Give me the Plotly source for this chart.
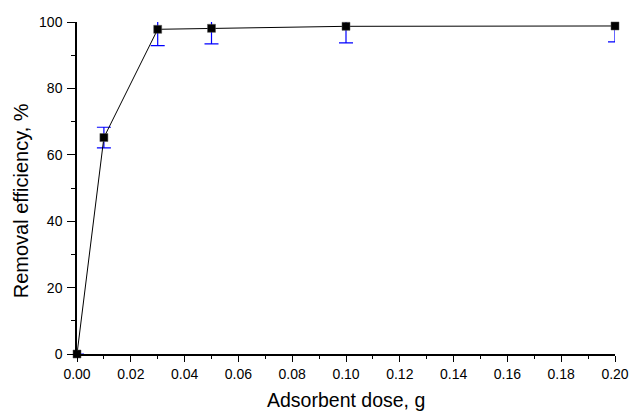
import plotly.graph_objects as go

dose = [0.0, 0.01, 0.03, 0.05, 0.10, 0.20]
efficiency = [0.0, 65.2, 97.8, 98.1, 98.7, 98.8]
err = [0.0, 3.1, 4.9, 4.7, 5.0, 4.8]

x_ticks = [0.00, 0.02, 0.04, 0.06, 0.08, 0.10, 0.12, 0.14, 0.16, 0.18, 0.20]
y_ticks = [0, 20, 40, 60, 80, 100]

FONT = "Liberation Sans, Arial, sans-serif"
X_RANGE = [0, 0.20]
Y_RANGE = [0, 100]

fig = go.Figure()

# error bars on the main subplot (clipped to the plot area)
fig.add_trace(go.Scatter(
    x=dose, y=efficiency, mode="markers",
    marker=dict(size=1, color="rgba(0,0,0,0)"),
    error_y=dict(type="data", array=err, visible=True, color="#0000FF",
                 thickness=1.2, width=7),
    cliponaxis=True, hoverinfo="skip", showlegend=False,
    xaxis="x", yaxis="y",
))

# line + markers on an overlaid twin subplot (markers not clipped)
fig.add_trace(go.Scatter(
    x=dose, y=efficiency, mode="lines+markers",
    line=dict(color="#000000", width=1),
    marker=dict(symbol="square", size=8, color="#000000",
                line=dict(color="#555555", width=0.5)),
    cliponaxis=False, showlegend=False,
    xaxis="x2", yaxis="y2",
))

axis_common = dict(
    showline=True, linecolor="#000000", linewidth=1.5,
    ticks="outside", tickcolor="#000000", tickwidth=1.3,
    showgrid=False, zeroline=False, mirror=False, automargin=False,
    tickfont=dict(family=FONT, size=14, color="#000000"),
)

fig.update_layout(
    xaxis=dict(
        range=X_RANGE, tickvals=x_ticks, ticktext=[f"{v:.2f}" for v in x_ticks],
        ticklen=6,
        minor=dict(dtick=0.01, ticks="outside", ticklen=3, tickwidth=1.3, tickcolor="#000000"),
        **axis_common,
    ),
    yaxis=dict(
        range=Y_RANGE, tickvals=y_ticks, ticktext=[str(v) for v in y_ticks],
        ticklen=8,
        minor=dict(dtick=10, ticks="outside", ticklen=4, tickwidth=1.3, tickcolor="#000000"),
        ticklabelstandoff=2,
        **axis_common,
    ),
    xaxis2=dict(range=X_RANGE, overlaying="x", visible=False, automargin=False),
    yaxis2=dict(range=Y_RANGE, overlaying="y", visible=False, automargin=False),
    width=632, height=411,
    margin=dict(l=77, r=17, t=22, b=57, pad=0),
    plot_bgcolor="#FFFFFF", paper_bgcolor="#FFFFFF",
    font=dict(family=FONT, color="#000000"),
    annotations=[
        dict(text="Adsorbent dose, g", xref="paper", yref="paper",
             x=0.5, y=0, yshift=-33, xanchor="center", yanchor="top",
             showarrow=False, font=dict(family=FONT, size=19.5)),
        dict(text="Removal efficiency, %", xref="paper", yref="paper",
             x=0, xshift=-69, y=0.46, xanchor="left", yanchor="middle",
             textangle=-90, showarrow=False, font=dict(family=FONT, size=20)),
    ],
)

fig.write_html("out.html")
